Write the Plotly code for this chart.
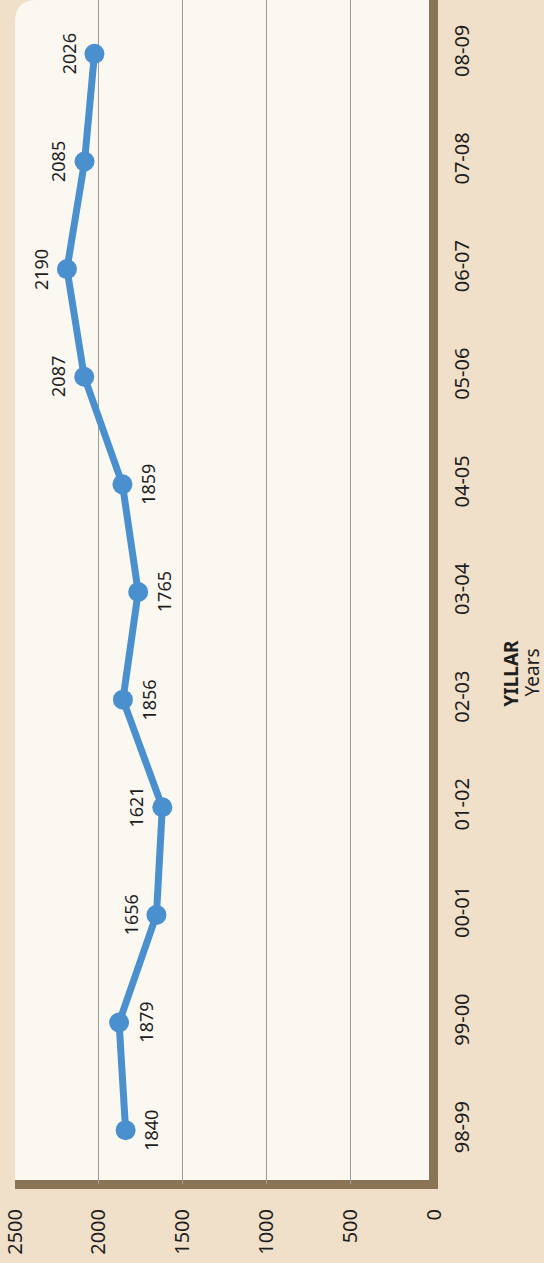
import plotly.graph_objects as go

# ---- data ----
years = ["98-99", "99-00", "00-01", "01-02", "02-03", "03-04",
         "04-05", "05-06", "06-07", "07-08", "08-09"]
values = [1840, 1879, 1656, 1621, 1856, 1765, 1859, 2087, 2190, 2085, 2026]
label_side = [1, 1, -1, -1, 1, 1, 1, -1, -1, -1, -1]   # +1 -> label toward lower values
value_ticks = [0, 500, 1000, 1500, 2000, 2500]
grid_ticks = [500, 1000, 1500, 2000]
title_main = "YILLAR"
title_sub = "Years"

# ---- style ----
BLUE = "#4a90ce"
PAPER = "#f0e0c9"
PLOT = "#fbf8f2"
BROWN = "#8b7355"
GRID = "#9c9c9c"
TXT = "#1e1e1e"
FONT = "Noto Sans"

W, H = 544, 1263
L, R, T, B = 13, 110, 0, 79
pw, ph = W - L - R, H - T - B


def px_x(p):
    return (p - L) / pw


def px_y(p):
    return (T + ph - p) / ph


fig = go.Figure()
fig.add_trace(go.Scatter(
    x=values, y=years, mode="lines+markers",
    line=dict(color=BLUE, width=7),
    marker=dict(size=20, color=BLUE),
    hoverinfo="skip", showlegend=False,
))

annotations = []
for v, yv, s in zip(values, years, label_side):
    annotations.append(dict(
        x=v, y=yv, xref="x", yref="y", text=str(v), textangle=-90,
        showarrow=False, xshift=26 * s, xanchor="center", yanchor="middle",
        font=dict(family=FONT, size=18, color=TXT),
    ))
annotations.append(dict(
    x=px_x(511), y=px_y(673), xref="paper", yref="paper",
    text="<b>" + title_main + "</b>", textangle=-90, showarrow=False,
    xanchor="center", yanchor="middle", borderpad=0,
    font=dict(family=FONT, size=19, color=TXT),
))
annotations.append(dict(
    x=px_x(532), y=px_y(673), xref="paper", yref="paper",
    text=title_sub, textangle=-90, showarrow=False,
    xanchor="center", yanchor="middle", borderpad=0,
    font=dict(family=FONT, size=19, color=TXT),
))

r = 22
rx, ry = r / pw, r / ph
bg_path = f"M0,0 L1,0 L1,1 L{rx},1 Q0,1 0,{1 - ry} Z"

shapes = [
    dict(type="path", xref="paper", yref="paper", path=bg_path,
         fillcolor=PLOT, line=dict(width=0), layer="below"),
    dict(type="rect", xref="paper", yref="paper",
         x0=px_x(429), x1=px_x(438), y0=px_y(1189), y1=1,
         fillcolor=BROWN, line=dict(width=0), layer="below"),
    dict(type="rect", xref="paper", yref="paper",
         x0=0, x1=px_x(438), y0=px_y(1189), y1=px_y(1180),
         fillcolor=BROWN, line=dict(width=0), layer="below"),
]

n = len(years)
fig.update_layout(
    width=W, height=H,
    margin=dict(l=L, r=R, t=T, b=B, pad=0),
    paper_bgcolor=PAPER, plot_bgcolor="rgba(0,0,0,0)",
    font=dict(family=FONT, color=TXT),
    showlegend=False,
    xaxis=dict(
        range=[2500, 0], tickvals=value_ticks, ticks="", tickangle=-90,
        showgrid=True, gridcolor=GRID, gridwidth=1, zeroline=False,
        showline=False, tickfont=dict(family=FONT, size=20, color=TXT),
        ticklabelstandoff=20, ticklabeloverflow="allow", fixedrange=True,
    ),
    xaxis2=dict(
        overlaying="x", anchor="y", side="bottom", range=[2500, 0],
        tickvals=grid_ticks, ticks="outside", ticklen=9, tickwidth=2,
        tickcolor="white", showticklabels=False, showgrid=False,
        zeroline=False, showline=False, fixedrange=True,
    ),
    yaxis=dict(
        type="category", categoryorder="array", categoryarray=years,
        range=[-0.5, n - 0.5], side="right", ticks="", tickangle=-90,
        showgrid=False, zeroline=False, showline=False,
        tickfont=dict(family=FONT, size=20, color=TXT),
        ticklabelstandoff=14, ticklabeloverflow="allow", fixedrange=True,
    ),
    yaxis2=dict(
        overlaying="y", anchor="x", side="right", type="linear",
        range=[-0.5, n - 0.5], tickvals=[i + 0.5 for i in range(n - 1)],
        ticks="outside", ticklen=7, tickwidth=2, tickcolor="white",
        showticklabels=False, showgrid=False, zeroline=False,
        showline=False, fixedrange=True,
    ),
    shapes=shapes,
    annotations=annotations,
)

fig.write_html(
    "out.html",
    config={"displayModeBar": False},
    post_script="document.body.style.margin='0';document.body.style.overflow='hidden';",
)
